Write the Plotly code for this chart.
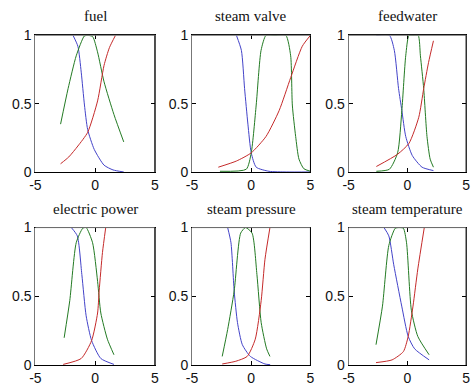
import plotly.graph_objects as go

# ---------------- data ----------------
titles = ["fuel", "steam valve", "feedwater",
          "electric power", "steam pressure", "steam temperature"]

x_ticks = [-5, 0, 5]
y_ticks = [0, 0.5, 1]
x_tick_labels = ["-5", "0", "5"]
y_tick_labels = ["0", "0.5", "1"]

# fuel
fuel_blue_x = [-1.85, -1.44, -1.16, -0.89, -0.62, -0.07, 0.75, 1.5, 2.4]
fuel_blue_y = [1.0, 0.92, 0.73, 0.49, 0.31, 0.165, 0.05, 0.015, 0.0]
fuel_green_x = [-2.89, -2.26, -1.58, -0.9, -0.6, -0.2, 0.2, 0.75, 1.58, 2.4]
fuel_green_y = [0.35, 0.61, 0.85, 0.995, 1.0, 0.99, 0.88, 0.66, 0.42, 0.22]
fuel_red_x = [-2.89, -2.2, -1.44, -0.62, 0.21, 0.75, 1.2, 1.71]
fuel_red_y = [0.06, 0.11, 0.19, 0.29, 0.52, 0.78, 0.91, 1.0]

# steam valve
sv_blue_x = [-1.25, -0.83, -0.56, -0.28, 0.0, 0.42, 1.5, 3.0, 5.0]
sv_blue_y = [1.0, 0.89, 0.61, 0.35, 0.14, 0.035, 0.005, 0.0, 0.0]
sv_green_x = [-2.64, -0.42, 0.0, 0.42, 0.83, 1.25, 2.0, 2.92, 3.33, 3.47, 3.75, 4.03, 4.44, 5.0]
sv_green_y = [0.005, 0.02, 0.14, 0.49, 0.89, 1.0, 1.0, 1.0, 0.85, 0.49, 0.26, 0.094, 0.024, 0.005]
sv_red_x = [-2.78, -1.25, 0.0, 1.25, 2.36, 3.33, 4.31, 5.0]
sv_red_y = [0.035, 0.08, 0.14, 0.26, 0.45, 0.69, 0.92, 1.0]

# feedwater
fw_blue_x = [-2.64, -1.53, -1.11, -0.75, -0.47, -0.14, 0.42, 1.25, 2.22]
fw_blue_y = [1.0, 1.0, 0.89, 0.61, 0.45, 0.26, 0.12, 0.035, 0.01]
fw_green_x = [-2.64, -1.53, -0.83, -0.47, -0.14, 0.14, 0.5, 0.92, 1.11, 1.39, 1.67, 1.94, 2.22]
fw_green_y = [0.005, 0.02, 0.14, 0.45, 0.85, 1.0, 1.0, 1.0, 0.85, 0.61, 0.26, 0.094, 0.035]
fw_red_x = [-2.64, -0.83, 0.14, 0.97, 1.39, 1.8, 2.22]
fw_red_y = [0.04, 0.13, 0.21, 0.4, 0.61, 0.8, 0.96]

# electric power
ep_blue_x = [-1.99, -1.49, -1.11, -0.75, -0.29, 0.48, 1.58]
ep_blue_y = [1.0, 0.94, 0.66, 0.36, 0.18, 0.05, 0.007]
ep_green_x = [-2.59, -2.12, -1.58, -1.03, -0.75, -0.21, 0.21, 0.48, 1.03, 1.58]
ep_green_y = [0.2, 0.47, 0.89, 0.995, 1.0, 0.89, 0.61, 0.38, 0.19, 0.077]
ep_red_x = [-2.67, -1.16, -0.29, 0.21, 0.34, 0.62, 0.89]
ep_red_y = [0.007, 0.05, 0.18, 0.38, 0.54, 0.82, 1.0]

# steam pressure
sp_blue_x = [-1.99, -1.71, -1.44, -1.16, -0.75, -0.07, 1.16, 1.6]
sp_blue_y = [1.0, 0.89, 0.54, 0.31, 0.15, 0.065, 0.01, 0.005]
sp_green_x = [-2.45, -1.99, -1.44, -0.89, -0.48, 0.07, 0.48, 0.84, 1.3, 1.58]
sp_green_y = [0.065, 0.26, 0.54, 0.96, 1.0, 0.96, 0.66, 0.31, 0.12, 0.065]
sp_red_x = [-2.45, -1.3, -0.34, 0.34, 0.84, 1.16, 1.58]
sp_red_y = [0.01, 0.03, 0.065, 0.19, 0.47, 0.77, 1.0]

# steam temperature
st_blue_x = [-1.99, -1.58, -1.16, -0.48, 0.07, 0.62, 1.85]
st_blue_y = [1.0, 0.94, 0.73, 0.43, 0.21, 0.12, 0.04]
st_green_x = [-2.67, -2.12, -1.58, -1.03, -0.7, -0.34, -0.07, 0.34, 0.89, 1.85]
st_green_y = [0.15, 0.43, 0.87, 0.995, 1.0, 0.995, 0.89, 0.4, 0.21, 0.077]
st_red_x = [-2.67, -1.3, -0.34, 0.07, 0.48, 0.89, 1.44]
st_red_y = [0.02, 0.04, 0.1, 0.21, 0.43, 0.7, 1.0]

panels = [
    [(fuel_blue_x, fuel_blue_y), (fuel_green_x, fuel_green_y), (fuel_red_x, fuel_red_y)],
    [(sv_blue_x, sv_blue_y), (sv_green_x, sv_green_y), (sv_red_x, sv_red_y)],
    [(fw_blue_x, fw_blue_y), (fw_green_x, fw_green_y), (fw_red_x, fw_red_y)],
    [(ep_blue_x, ep_blue_y), (ep_green_x, ep_green_y), (ep_red_x, ep_red_y)],
    [(sp_blue_x, sp_blue_y), (sp_green_x, sp_green_y), (sp_red_x, sp_red_y)],
    [(st_blue_x, st_blue_y), (st_green_x, st_green_y), (st_red_x, st_red_y)],
]

# ---------------- styling ----------------
W, H = 475, 389
colors = ["#4343c8", "#237a23", "#c42a2a"]
x_domains = [[30 / W, 152 / W], [190 / W, 311 / W], [350 / W, 470 / W]]
y_domains = [[1 - 171 / H, 1 - 28.5 / H], [1 - 372.7 / H, 1 - 229 / H]]

fig = go.Figure()
layout = dict(width=W, height=H, margin=dict(l=0, r=0, t=0, b=0),
              paper_bgcolor="white", plot_bgcolor="white", showlegend=False)
annotations = []
shapes = []
tick_font = dict(family="Liberation Sans, Arial, sans-serif", size=14, color="#111")

for i, series in enumerate(panels):
    row, col = divmod(i, 3)
    n = i + 1
    xa = "x" if n == 1 else f"x{n}"
    ya = "y" if n == 1 else f"y{n}"
    for (sx, sy), c in zip(series, colors):
        fig.add_trace(go.Scatter(x=sx, y=sy, mode="lines", xaxis=xa, yaxis=ya,
                                 line=dict(color=c, width=1, shape="spline", smoothing=0.6),
                                 hoverinfo="skip"))
    layout["xaxis" if n == 1 else f"xaxis{n}"] = dict(
        domain=x_domains[col], anchor=ya, range=[-5, 5], tickmode="array",
        tickvals=x_ticks, ticktext=x_tick_labels, ticks="inside", ticklen=4,
        tickcolor="#000", showline=True, linecolor="#000", linewidth=1,
        mirror="ticks", showgrid=False, zeroline=False, tickfont=tick_font,
        fixedrange=True)
    layout["yaxis" if n == 1 else f"yaxis{n}"] = dict(
        domain=y_domains[row], anchor=xa, range=[0, 1], tickmode="array",
        tickvals=y_ticks, ticktext=y_tick_labels, ticks="inside", ticklen=4,
        tickcolor="#000", showline=True, linecolor="#777", linewidth=1,
        mirror="ticks", showgrid=False, zeroline=False, tickfont=tick_font,
        fixedrange=True)
    # top edge gray, right edge black (as in the picture)
    shapes.append(dict(type="line", xref=f"{xa} domain", yref=f"{ya} domain",
                       x0=0, x1=1, y0=1, y1=1, line=dict(color="#777", width=1),
                       layer="above"))
    shapes.append(dict(type="line", xref=f"{xa} domain", yref=f"{ya} domain",
                       x0=1, x1=1, y0=0, y1=1, line=dict(color="#000", width=1),
                       layer="above"))
    annotations.append(dict(text=titles[i], xref=f"{xa} domain", yref=f"{ya} domain",
                            x=0.5, y=1, yshift=9, xanchor="center", yanchor="bottom",
                            showarrow=False,
                            font=dict(family="Liberation Serif, Times New Roman, serif",
                                      size=15, color="#111")))

layout["annotations"] = annotations
layout["shapes"] = shapes
fig.update_layout(**layout)
fig.write_html("out.html")
